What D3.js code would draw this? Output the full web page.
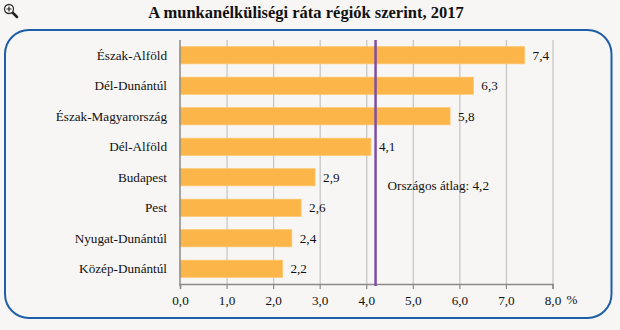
<!DOCTYPE html>
<html><head><meta charset="utf-8">
<script src="https://cdn.jsdelivr.net/npm/d3@7"></script>
<style>
html,body{margin:0;padding:0;background:#f7f6f4;}
svg{display:block;}
</style></head>
<body>
<svg id="c" width="620" height="330" font-family="Liberation Serif, serif"></svg>
<script>
const title = "A munkanélküliségi ráta régiók szerint, 2017";
const regions = ["Észak-Alföld","Dél-Dunántúl","Észak-Magyarország","Dél-Alföld","Budapest","Pest","Nyugat-Dunántúl","Közép-Dunántúl"];
const rates = [7.4,6.3,5.8,4.1,2.9,2.6,2.4,2.2];
const xTicks = [0,1,2,3,4,5,6,7,8];
const average = 4.2;
const averageLabel = "Országos átlag: 4,2";
const unitLabel = "%";

const fmt = v => d3.format(".1f")(v).replace(".", ",");
const FONT = "Liberation Serif, serif";
const fs = 13.2;

const svg = d3.select("#c");
svg.append("rect").attr("width",620).attr("height",330).attr("fill","#f7f6f4");

// frame
svg.append("rect").attr("x",5).attr("y",30).attr("width",606.5).attr("height",288)
  .attr("rx",24).attr("ry",24).attr("fill","#f7f6f4").attr("stroke","#1d5ea6").attr("stroke-width",2);

// title
svg.append("text").attr("x",306).attr("y",18).attr("text-anchor","middle")
  .attr("font-family",FONT).attr("font-size",16.5).attr("font-weight","bold").attr("fill","#111")
  .text(title);

// magnifier icon
const ic = svg.append("g").attr("transform","translate(3,3)");
ic.append("line").attr("x1",9).attr("y1",9).attr("x2",14).attr("y2",14).attr("stroke","#222").attr("stroke-width",2.5).attr("stroke-linecap","round");
ic.append("circle").attr("cx",6).attr("cy",6).attr("r",4.5).attr("fill","#fff").attr("stroke","#333").attr("stroke-width",1.3);
ic.append("path").attr("d","M3.5,6H8.5M6,3.5V8.5").attr("stroke","#222").attr("stroke-width",1.2);

const x = d3.scaleLinear().domain([0,8]).range([180,552.5]);
const y = d3.scaleBand().domain(regions).range([40,284]).paddingInner(0.44).paddingOuter(0.22);

// gridlines
svg.append("g").selectAll("line").data(xTicks.slice(1)).join("line")
  .attr("x1",d=>x(d)+0.5).attr("x2",d=>x(d)+0.5).attr("y1",40).attr("y2",284)
  .attr("stroke","#c4c4c4").attr("stroke-width",1.2);

// bars
svg.append("g").selectAll("rect").data(regions).join("rect")
  .attr("x",x(0)).attr("y",d=>y(d)).attr("width",(d,i)=>x(rates[i])-x(0)).attr("height",y.bandwidth())
  .attr("fill","#fbb548").attr("stroke","#fcc468").attr("stroke-width",0.8);

// value labels
svg.append("g").selectAll("text").data(regions).join("text")
  .attr("x",(d,i)=>x(rates[i])+8).attr("y",d=>y(d)+y.bandwidth()/2+4.5)
  .attr("font-family",FONT).attr("font-size",fs).attr("fill","#111")
  .text((d,i)=>fmt(rates[i]));

// category labels
svg.append("g").selectAll("text").data(regions).join("text")
  .attr("x",167).attr("y",d=>y(d)+y.bandwidth()/2+4.5).attr("text-anchor","end")
  .attr("font-family",FONT).attr("font-size",fs).attr("fill","#111")
  .text(d=>d);

// y axis line
svg.append("line").attr("x1",x(0)).attr("x2",x(0)).attr("y1",40).attr("y2",286)
  .attr("stroke","#8a8a8a").attr("stroke-width",1.5);

// x axis
const xAxis = d3.axisBottom(x).tickValues(xTicks).tickSize(5).tickPadding(7).tickFormat(fmt);
const gx = svg.append("g").attr("transform","translate(0,284)").call(xAxis);
gx.attr("font-family",FONT).attr("font-size",fs);
gx.select(".domain").attr("stroke","#8a8a8a").attr("stroke-width",1.5);
gx.selectAll(".tick line").attr("stroke","#8a8a8a").attr("stroke-width",1.2);
gx.selectAll(".tick text").attr("font-family",FONT).attr("font-size",fs).attr("fill","#111");
svg.append("text").attr("x",x(8)+14).attr("y",304).attr("font-family",FONT).attr("font-size",fs).attr("fill","#111").text(unitLabel);

// average line
svg.append("line").attr("x1",x(average)).attr("x2",x(average)).attr("y1",40).attr("y2",286)
  .attr("stroke","#7e4ea6").attr("stroke-width",2.5);
svg.append("text").attr("x",x(average)+12).attr("y",190)
  .attr("font-family",FONT).attr("font-size",fs).attr("fill","#111").text(averageLabel);
</script>
</body></html>
